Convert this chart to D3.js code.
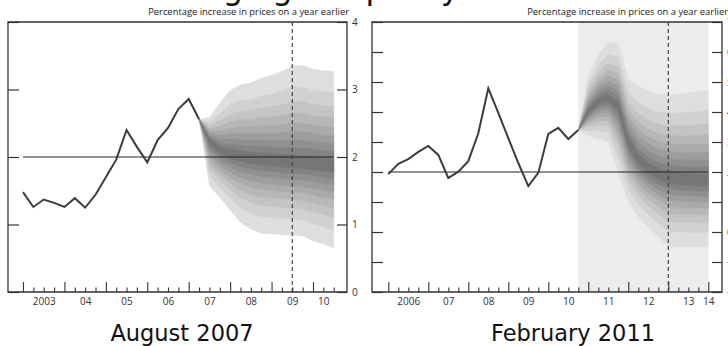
<!DOCTYPE html>
<html>
<head>
<meta charset="utf-8">
<script src="https://cdn.jsdelivr.net/npm/d3@7"></script>
<style>
body { margin: 0; background: #fff; }
svg { display: block; }
</style>
</head>
<body>
<div id="chart"></div>
<script>
// ---- data: August 2007 report (CPI, quarterly from 2003 Q1) ----
var augStart = 2003;
var augCpi = [1.48, 1.26, 1.37, 1.32, 1.26, 1.39, 1.25, 1.44, 1.70, 1.96, 2.40, 2.15, 1.92, 2.25, 2.43, 2.71, 2.86, 2.56];
var augFanStart = 2007.25;
var augFanUpper = [2.56, 2.59, 2.80, 2.99, 3.07, 3.10, 3.17, 3.21, 3.27, 3.35, 3.36, 3.30, 3.28, 3.27];
var augFanMode  = [2.56, 2.25, 2.10, 2.04, 2.01, 1.99, 1.97, 1.95, 1.93, 1.92, 1.91, 1.90, 1.88, 1.87];
var augFanLower = [2.56, 1.57, 1.40, 1.21, 1.03, 0.93, 0.87, 0.86, 0.85, 0.84, 0.83, 0.76, 0.71, 0.65];
var augYTicks = [0, 1, 2, 3, 4];
var augXLabels = ["2003", "04", "05", "06", "07", "08", "09", "10"];
var augXLabelAt = [2003.5, 2004.5, 2005.5, 2006.5, 2007.5, 2008.5, 2009.5, 2010.25];
var augDashAt = 2009.5;

// ---- data: February 2011 report (CPI, quarterly from 2006 Q1) ----
var febStart = 2006;
var febCpi = [1.93, 2.27, 2.43, 2.67, 2.87, 2.57, 1.80, 2.01, 2.36, 3.29, 4.79, 3.97, 3.13, 2.30, 1.53, 1.97, 3.27, 3.47, 3.10, 3.40];
var febFanStart = 2010.75;
var febFanUpper = [3.40, 5.20, 5.90, 6.33, 6.30, 5.10, 4.85, 4.70, 4.60, 4.57, 4.60, 4.63, 4.68, 4.73];
var febFanMode  = [3.40, 4.00, 4.35, 4.45, 4.20, 3.00, 2.40, 2.10, 1.90, 1.80, 1.75, 1.72, 1.70, 1.70];
var febFanLower = [3.40, 3.20, 3.10, 3.00, 2.00, 1.00, 0.50, 0.15, -0.15, -0.50, -0.50, -0.50, -0.50, -0.50];
var febYTicks = [-2, -1, 0, 1, 2, 3, 4, 5, 6, 7];
var febXLabels = ["2006", "07", "08", "09", "10", "11", "12", "13", "14"];
var febXLabelAt = [2006.5, 2007.5, 2008.5, 2009.5, 2010.5, 2011.5, 2012.5, 2013.5, 2014];
var febDashAt = 2013;

// fan bands: share of the way from the mode to the outer edge (10%..90% bands)
var bandFrac = [0.077, 0.154, 0.234, 0.319, 0.41, 0.512, 0.63, 0.779, 1];
var bandShades = ["#767676", "#838383", "#909090", "#9d9d9d", "#aaaaaa", "#b7b7b7", "#c4c4c4", "#d1d1d1", "#dedede"];
var target = 2;
var subtitle = "Percentage increase in prices on a year earlier";

var W = 728, H = 346;
var svg = d3.select("#chart").append("svg")
    .attr("width", W)
    .attr("height", H);

// big heading, almost all of it cut off by the top of the picture
svg.append("text")
    .attr("x", 300)
    .attr("y", -1)
    .attr("text-anchor", "middle")
    .style("font-family", "DejaVu Sans")
    .style("font-size", "32px")
    .style("fill", "#111")
    .text("Changing the policy");

function quarters(start, n) {
    return d3.range(n).map(function(i) { return start + i / 4; });
}

function drawPanel(p) {
    var x = d3.scaleLinear().domain(p.xDomain).range(p.xRange);
    var y = d3.scaleLinear().domain(p.yDomain).range([p.bottom, p.top]);
    var g = svg.append("g");

    // shaded projection period
    if (p.shadeFrom != null) {
        g.append("rect")
            .attr("x", x(p.shadeFrom))
            .attr("y", p.top)
            .attr("width", x(p.xDomain[1]) - x(p.shadeFrom))
            .attr("height", p.bottom - p.top)
            .style("fill", "#ececec");
    }

    // fan
    var fq = quarters(p.fanStart, p.upper.length);
    var fan = fq.map(function(t, i) {
        return {t: t, up: p.upper[i], mode: p.mode[i], lo: p.lower[i]};
    });
    for (var k = bandFrac.length - 1; k >= 0; k--) {
        var f = bandFrac[k];
        var area = d3.area()
            .x(function(d) { return x(d.t); })
            .y0(function(d) { return y(d.mode - f * (d.mode - d.lo)); })
            .y1(function(d) { return y(d.mode + f * (d.up - d.mode)); });
        g.append("path")
            .datum(fan)
            .attr("d", area)
            .style("fill", bandShades[k])
            .style("stroke", bandShades[k])
            .style("stroke-width", 0.3);
    }

    // target line
    g.append("line")
        .attr("x1", x(p.xDomain[0]))
        .attr("x2", x(p.xDomain[1]))
        .attr("y1", y(target))
        .attr("y2", y(target))
        .style("stroke", "#222")
        .style("stroke-width", 1.2);

    // dashed line two years ahead
    g.append("line")
        .attr("x1", x(p.dashAt))
        .attr("x2", x(p.dashAt))
        .attr("y1", p.top)
        .attr("y2", p.bottom)
        .style("stroke", "#444")
        .style("stroke-width", 1.2)
        .style("stroke-dasharray", "4,3");

    // outturn line
    var hist = quarters(p.start, p.cpi.length).map(function(t, i) {
        return {t: t, v: p.cpi[i]};
    });
    g.append("path")
        .datum(hist)
        .attr("d", d3.line().x(function(d) { return x(d.t); }).y(function(d) { return y(d.v); }))
        .style("fill", "none")
        .style("stroke", "#3c3c3c")
        .style("stroke-width", 2)
        .style("stroke-linejoin", "miter");

    // frame
    g.append("path")
        .attr("d", "M" + p.left + "," + p.top + "H" + p.right + "V" + p.bottom + "H" + p.left + "Z")
        .style("fill", "none")
        .style("stroke", "#333")
        .style("stroke-width", 1.3);

    // y ticks on both sides, labels on the right
    var yr = g.append("g")
        .attr("transform", "translate(" + p.right + ",0)")
        .call(d3.axisRight(y).tickValues(p.yTicks).tickFormat(d3.format("d"))
            .tickSizeInner(-10).tickSizeOuter(0).tickPadding(5));
    yr.select(".domain").remove();
    yr.selectAll("line").style("stroke", "#333").style("stroke-width", 1.2);
    yr.selectAll("text")
        .style("font-family", "Open Sans")
        .style("font-size", "10px")
        .style("fill", "#333");

    var yl = g.append("g")
        .attr("transform", "translate(" + p.left + ",0)")
        .call(d3.axisLeft(y).tickValues(p.yTicks).tickSize(-11).tickFormat(""));
    yl.select(".domain").remove();
    yl.selectAll("line").style("stroke", "#333").style("stroke-width", 1.2);

    // quarterly x ticks rising from the base
    var qt = d3.range(p.xDomain[0] * 4, p.xDomain[1] * 4 + 1).map(function(q) { return q / 4; });
    var xt = g.append("g")
        .attr("transform", "translate(0," + p.bottom + ")")
        .call(d3.axisTop(x).tickValues(qt).tickFormat("").tickSizeOuter(0));
    xt.select(".domain").remove();
    xt.selectAll("line")
        .attr("y2", function(d) { return d % 1 === 0 ? -10 : -4.5; })
        .style("stroke", "#333")
        .style("stroke-width", 1.1);

    // year labels
    var xl = g.append("g")
        .attr("transform", "translate(0," + p.bottom + ")")
        .call(d3.axisBottom(x).tickValues(p.labelAt).tickSize(0).tickPadding(6)
            .tickFormat(function(d, i) { return p.labels[i]; }));
    xl.select(".domain").remove();
    xl.selectAll("text")
        .style("font-family", "Open Sans")
        .style("font-size", "10px")
        .style("fill", "#333");

    // subtitle
    g.append("text")
        .attr("x", p.subX)
        .attr("y", 15)
        .attr("text-anchor", "end")
        .style("font-family", "Open Sans")
        .style("font-size", "9.4px")
        .style("fill", "#222")
        .text(subtitle);

    // caption
    g.append("text")
        .attr("x", p.capX)
        .attr("y", 341)
        .attr("text-anchor", "middle")
        .style("font-family", "DejaVu Sans")
        .style("font-size", "22.5px")
        .style("fill", "#111")
        .text(p.caption);
}

drawPanel({
    left: 8, right: 347, top: 22, bottom: 292,
    xDomain: [2003, 2010.5], xRange: [23, 333.7], yDomain: [0, 4],
    start: augStart, cpi: augCpi,
    fanStart: augFanStart, upper: augFanUpper, mode: augFanMode, lower: augFanLower,
    yTicks: augYTicks, labels: augXLabels, labelAt: augXLabelAt, dashAt: augDashAt,
    shadeFrom: null, subX: 349, capX: 182, caption: "August 2007"
});

drawPanel({
    left: 372, right: 722, top: 22, bottom: 292,
    xDomain: [2006, 2014], xRange: [388.3, 708.3], yDomain: [-2, 7],
    start: febStart, cpi: febCpi,
    fanStart: febFanStart, upper: febFanUpper, mode: febFanMode, lower: febFanLower,
    yTicks: febYTicks, labels: febXLabels, labelAt: febXLabelAt, dashAt: febDashAt,
    shadeFrom: febFanStart, subX: 728, capX: 573, caption: "February 2011"
});
</script>
</body>
</html>
